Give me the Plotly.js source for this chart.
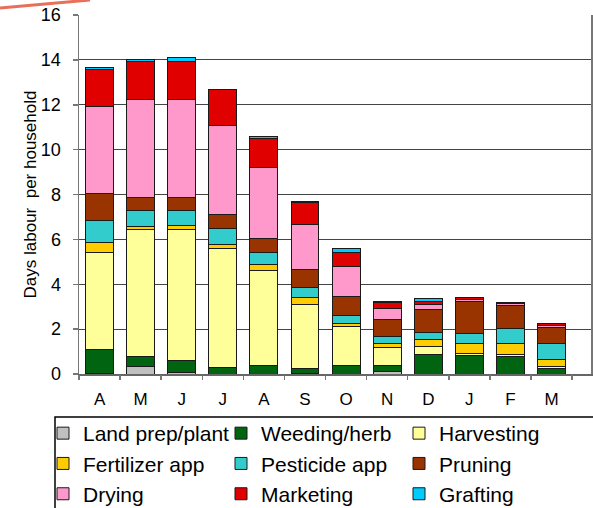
<!DOCTYPE html>
<html>
<head>
<meta charset="utf-8">
<script src="https://cdn.plot.ly/plotly-3.0.1.min.js"></script>
<style>html,body{margin:0;padding:0;background:#fff;}#chart{width:593px;height:508px;}</style>
</head>
<body>
<div id="chart"></div>
<script>
const months = ['A','M','J','J','A','S','O','N','D','J','F','M'];
const seriesNames = ['Land prep/plant','Weeding/herb','Harvesting','Fertilizer app','Pesticide app','Pruning','Drying','Marketing','Grafting'];
const seriesColors = ['#C0C0C0','#006411','#FFFF99','#FFCC00','#33CCCC','#993300','#FF99CC','#E00000','#00CCFF'];
const landPrep   = [0.02,0.33,0.07,0,0,0.02,0,0.12,0,0,0,0];
const weeding    = [1.05,0.47,0.52,0.31,0.40,0.23,0.36,0.28,0.86,0.83,0.77,0.25];
const harvesting = [4.35,5.62,5.83,5.29,4.23,2.87,1.75,0.79,0.37,0.09,0.11,0.08];
const fertilizer = [0.43,0.14,0.22,0.18,0.23,0.31,0.15,0.18,0.33,0.42,0.49,0.32];
const pesticide  = [0.98,0.73,0.65,0.71,0.56,0.43,0.34,0.32,0.28,0.46,0.65,0.69];
const pruning    = [1.22,0.58,0.58,0.63,0.63,0.80,0.85,0.75,1.04,1.45,1.04,0.74];
const drying     = [3.89,4.38,4.38,3.95,3.16,2.02,1.36,0.47,0.22,0.09,0.10,0.09];
const marketing  = [1.65,1.70,1.70,1.59,1.29,0.97,0.61,0.28,0.14,0.08,0.03,0.06];
const grafting   = [0.09,0.05,0.16,0.04,0.08,0.06,0.18,0.05,0.13,0,0,0];
const yTicks = [0,2,4,6,8,10,12,14,16];

const allSeries = [landPrep,weeding,harvesting,fertilizer,pesticide,pruning,drying,marketing,grafting];
const xIdx = months.map((m,i)=>i);
const boundaries = months.map((m,i)=>i-0.5).concat([months.length-0.5]);

const traces = allSeries.map((vals,k)=>({
  type:'bar', name:seriesNames[k], x:xIdx, y:vals,
  marker:{color:seriesColors[k], line:{color:'#1a1a1a', width:1}},
  hoverinfo:'skip'
}));
traces.push({type:'scatter', x:[-0.5], y:[0], xaxis:'x2', mode:'markers', marker:{opacity:0}, showlegend:false, hoverinfo:'skip'});

const font = 'Liberation Sans, Arial, sans-serif';
const xr = [-0.5, 11.96];
const layout = {
  width:593, height:508,
  margin:{l:79, r:2, t:15, b:134, autoexpand:false},
  paper_bgcolor:'#fff', plot_bgcolor:'#fff',
  barmode:'stack', bargap:0.32,
  showlegend:true,
  font:{family:font, color:'#000'},
  xaxis:{range:xr, tickmode:'array', tickvals:xIdx, ticktext:months,
         ticks:'outside', ticklen:9, tickcolor:'rgba(0,0,0,0)',
         tickfont:{size:17, family:font, color:'#000'},
         showgrid:false, zeroline:false, showline:true, linecolor:'#666', linewidth:1.5, fixedrange:true},
  xaxis2:{range:xr, overlaying:'x', anchor:'y', side:'bottom', tickmode:'array', tickvals:boundaries,
          ticks:'outside', ticklen:5, tickcolor:'#777', tickwidth:1.5, showticklabels:false,
          showgrid:false, zeroline:false, showline:false},
  yaxis:{range:[0,16], tickmode:'array', tickvals:yTicks, ticks:'outside', ticklen:5, tickcolor:'#777', tickwidth:1.5,
         tickfont:{size:18, family:font, color:'#000'}, ticklabelstandoff:8,
         showgrid:true, gridcolor:'#444', gridwidth:1, zeroline:false,
         showline:true, linecolor:'#777', linewidth:1.5, mirror:true,
         title:{text:'Days labour  per household', font:{size:17, family:font, color:'#000'}, standoff:0}},
  legend:{orientation:'h', xref:'paper', yref:'paper', x:(43-79)/512, y:(374-413)/359, xanchor:'left', yanchor:'top',
          entrywidth:133, entrywidthmode:'pixels', traceorder:'normal', tracegroupgap:0,
          font:{size:21, family:font, color:'#000'}, borderwidth:0, bgcolor:'rgba(0,0,0,0)', itemclick:false},
  shapes:[
    {type:'rect', xref:'paper', yref:'paper', x0:(55-79)/512, x1:1.2, y0:(374-417)/359, y1:-0.6,
     line:{color:'#000', width:1.5}, fillcolor:'rgba(0,0,0,0)'},
    {type:'line', xref:'paper', yref:'paper', x0:-79/512, y0:(374-8)/359, x1:(90-79)/512, y1:(374-0)/359,
     line:{color:'#E8705A', width:3}}
  ]
};
Plotly.newPlot('chart', traces, layout, {displayModeBar:false, staticPlot:true});
</script>
</body>
</html>
